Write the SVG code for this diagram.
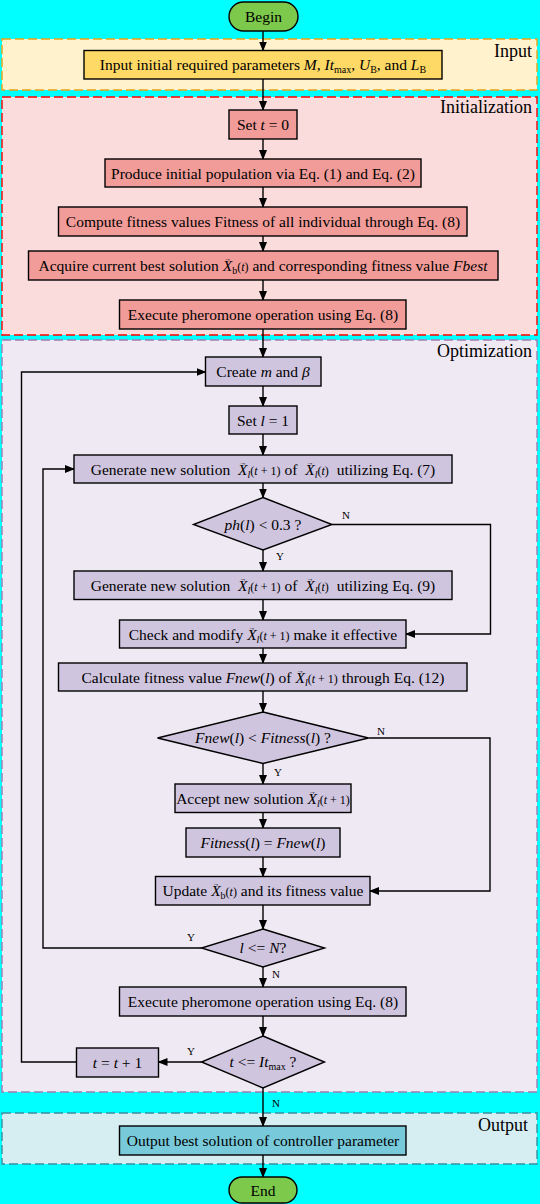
<svg xmlns="http://www.w3.org/2000/svg" width="540" height="1204" viewBox="0 0 540 1204">
<style>
text{font-family:"Liberation Serif","Times New Roman",serif;font-size:15.5px;fill:#000;text-anchor:middle}
.i{font-style:italic}
.sm{font-size:12px}
.sub{font-size:10px}
.va{font-size:7px;font-style:normal}
.lab{font-size:18px;text-anchor:end}
.yn{font-size:11px;text-anchor:start}
.reg{stroke-width:1.4;stroke-dasharray:9 4}
.b{stroke:#000;stroke-width:1.4}
.inp{fill:#FFD966}
.ini{fill:#F19C99}
.opt{fill:#D0C5DF}
.out{fill:#78C9D9}
.term{fill:#7DC94B;stroke:#000;stroke-width:1.4}
.c{fill:none;stroke:#000;stroke-width:1.4;marker-end:url(#ah)}
</style>
<defs>
<marker id="ah" markerWidth="10" markerHeight="8" refX="9" refY="4" orient="auto" markerUnits="userSpaceOnUse">
<path d="M0,0 L10,4 L0,8 Z" fill="#000"/>
</marker>
</defs>
<rect x="0" y="0" width="540" height="1204" fill="#00FFFF"/>
<g id="regions">
<rect class="reg" x="2" y="39" width="535" height="51" fill="#FFF2CC" stroke="#E8A317"/>
<text class="lab" x="532" y="57">Input</text>
<rect class="reg" x="2" y="97" width="535" height="238" fill="#F9DCDB" stroke="#FF0000"/>
<text class="lab" x="532" y="113">Initialization</text>
<rect class="reg" x="2" y="340" width="535" height="752" fill="#EFE9F3" stroke="#A07CB0"/>
<text class="lab" x="532" y="357">Optimization</text>
<rect class="reg" x="2" y="1113" width="535" height="51" fill="#D6EEF2" stroke="#3A8FA0"/>
<text class="lab" x="528" y="1131">Output</text>
</g>
<g id="connectors">
<path class="c" d="M263,31 V50.5"/>
<path class="c" d="M263,79 V110"/>
<path class="c" d="M263,139 V159"/>
<path class="c" d="M263,187 V207"/>
<path class="c" d="M263,236 V251"/>
<path class="c" d="M263,280 V300"/>
<path class="c" d="M263,329 V357"/>
<path class="c" d="M263,386 V406"/>
<path class="c" d="M263,434 V455"/>
<path class="c" d="M263,483 V497.5"/>
<path class="c" d="M263,550 V571"/>
<path class="c" d="M332,524.5 H490.5 V634 H406"/>
<path class="c" d="M263,599.5 V620"/>
<path class="c" d="M263,648 V663"/>
<path class="c" d="M263,691 V712"/>
<path class="c" d="M263,763.5 V784"/>
<path class="c" d="M368.5,738 H490 V891 H370"/>
<path class="c" d="M263,812.5 V828"/>
<path class="c" d="M263,857 V876.5"/>
<path class="c" d="M263,905 V929"/>
<path class="c" d="M201.5,948 H43 V469 H74"/>
<path class="c" d="M263,967 V987"/>
<path class="c" d="M263,1016 V1036"/>
<path class="c" d="M201.5,1062 H158.5"/>
<path class="c" d="M76.5,1062 H21.5 V372 H205.5"/>
<path class="c" d="M263,1088 V1126"/>
<path class="c" d="M263,1155 V1177"/>
<text class="yn" x="276" y="560">Y</text>
<text class="yn" x="342" y="519">N</text>
<text class="yn" x="274" y="776">Y</text>
<text class="yn" x="377" y="735">N</text>
<text class="yn" x="187" y="941">Y</text>
<text class="yn" x="272" y="978">N</text>
<text class="yn" x="187" y="1055">Y</text>
<text class="yn" x="272" y="1107">N</text>
</g>
<g id="begin">
<rect class="term" x="229" y="2" width="69" height="29" rx="14.5"/>
<text x="263.5" y="22">Begin</text>
</g>
<g id="input">
<rect class="b inp" x="84" y="50.5" width="358" height="28.5"/>
<text x="263" y="70">Input initial required parameters <tspan class="i">M</tspan>, <tspan class="i">It</tspan><tspan class="sub" dy="3">max</tspan><tspan dy="-3">, </tspan><tspan class="i">U</tspan><tspan class="sub" dy="3">B</tspan><tspan dy="-3">, and </tspan><tspan class="i">L</tspan><tspan class="sub" dy="3">B</tspan></text>
</g>
<g id="set-t">
<rect class="b ini" x="229" y="110" width="68" height="29"/>
<text x="263" y="130">Set <tspan class="i">t</tspan> = 0</text>
</g>
<g id="produce">
<rect class="b ini" x="105" y="159" width="316" height="28"/>
<text x="263" y="178.5">Produce initial population via Eq. (1) and Eq. (2)</text>
</g>
<g id="compute">
<rect class="b ini" x="58.5" y="207" width="408.5" height="29"/>
<text x="263" y="227">Compute fitness values Fitness of all individual through Eq. (8)</text>
</g>
<g id="acquire">
<rect class="b ini" x="28.5" y="251" width="469.5" height="29"/>
<text x="263" y="271">Acquire current best solution <tspan class="i">X</tspan><tspan class="va" dx="-8" dy="-10">→</tspan><tspan class="sub" dx="1" dy="13">b</tspan><tspan class="sm" dy="-3">(<tspan class="i">t</tspan>)</tspan> and corresponding fitness value <tspan class="i">Fbest</tspan></text>
</g>
<g id="execute1">
<rect class="b ini" x="119.5" y="300" width="286.5" height="29"/>
<text x="263" y="320">Execute pheromone operation using Eq. (8)</text>
</g>
<g id="create">
<rect class="b opt" x="205.5" y="357" width="115.5" height="29"/>
<text x="263" y="377">Create <tspan class="i">m</tspan> and <tspan class="i">β</tspan></text>
</g>
<g id="set-l">
<rect class="b opt" x="229" y="406" width="68" height="28"/>
<text x="263" y="425.5">Set <tspan class="i">l</tspan> = 1</text>
</g>
<g id="generate7">
<rect class="b opt" x="74" y="455" width="378" height="28"/>
<text x="263" y="474.5">Generate new solution <tspan class="i" dx="4">X</tspan><tspan class="va" dx="-8" dy="-10">→</tspan><tspan class="sub i" dx="1" dy="13">l</tspan><tspan class="sm" dy="-3">(<tspan class="i">t</tspan> + 1)</tspan><tspan dx="4">of </tspan><tspan class="i" dx="4">X</tspan><tspan class="va" dx="-8" dy="-10">→</tspan><tspan class="sub i" dx="1" dy="13">l</tspan><tspan class="sm" dy="-3">(<tspan class="i">t</tspan>)</tspan><tspan dx="4"> utilizing Eq. (7)</tspan></text>
</g>
<g id="decision-ph">
<polygon class="b opt" points="263,497.5 332,524.5 263,550 193.5,524.5"/>
<text x="263" y="529.5"><tspan class="i">ph</tspan>(<tspan class="i">l</tspan>) &lt; 0.3 ?</text>
</g>
<g id="generate9">
<rect class="b opt" x="74" y="571" width="378" height="28.5"/>
<text x="263" y="590.5">Generate new solution <tspan class="i" dx="4">X</tspan><tspan class="va" dx="-8" dy="-10">→</tspan><tspan class="sub i" dx="1" dy="13">l</tspan><tspan class="sm" dy="-3">(<tspan class="i">t</tspan> + 1)</tspan><tspan dx="4">of </tspan><tspan class="i" dx="4">X</tspan><tspan class="va" dx="-8" dy="-10">→</tspan><tspan class="sub i" dx="1" dy="13">l</tspan><tspan class="sm" dy="-3">(<tspan class="i">t</tspan>)</tspan><tspan dx="4"> utilizing Eq. (9)</tspan></text>
</g>
<g id="check">
<rect class="b opt" x="119.5" y="620" width="286.5" height="28"/>
<text x="263" y="639.5">Check and modify <tspan class="i">X</tspan><tspan class="va" dx="-8" dy="-10">→</tspan><tspan class="sub i" dx="1" dy="13">l</tspan><tspan class="sm" dy="-3">(<tspan class="i">t</tspan> + 1)</tspan> make it effective</text>
</g>
<g id="calculate">
<rect class="b opt" x="58.5" y="663" width="408.5" height="28"/>
<text x="263" y="682.5">Calculate fitness value <tspan class="i">Fnew</tspan>(<tspan class="i">l</tspan>) of <tspan class="i">X</tspan><tspan class="va" dx="-8" dy="-10">→</tspan><tspan class="sub i" dx="1" dy="13">l</tspan><tspan class="sm" dy="-3">(<tspan class="i">t</tspan> + 1)</tspan> through Eq. (12)</text>
</g>
<g id="decision-fnew">
<polygon class="b opt" points="263,712 368.5,738 263,763.5 157.5,738"/>
<text x="263" y="743"><tspan class="i">Fnew</tspan>(<tspan class="i">l</tspan>) &lt; <tspan class="i">Fitness</tspan>(<tspan class="i">l</tspan>) ?</text>
</g>
<g id="accept">
<rect class="b opt" x="175" y="784" width="176" height="28.5"/>
<text x="263" y="803.5">Accept new solution <tspan class="i">X</tspan><tspan class="va" dx="-8" dy="-10">→</tspan><tspan class="sub i" dx="1" dy="13">l</tspan><tspan class="sm" dy="-3">(<tspan class="i">t</tspan> + 1)</tspan></text>
</g>
<g id="fitness-update">
<rect class="b opt" x="186" y="828" width="154" height="29"/>
<text x="263" y="848"><tspan class="i">Fitness</tspan>(<tspan class="i">l</tspan>) = <tspan class="i">Fnew</tspan>(<tspan class="i">l</tspan>)</text>
</g>
<g id="update-best">
<rect class="b opt" x="155.5" y="876.5" width="214.5" height="28.5"/>
<text x="263" y="896">Update <tspan class="i">X</tspan><tspan class="va" dx="-8" dy="-10">→</tspan><tspan class="sub" dx="1" dy="13">b</tspan><tspan class="sm" dy="-3">(<tspan class="i">t</tspan>)</tspan> and its fitness value</text>
</g>
<g id="decision-l">
<polygon class="b opt" points="263,929 324.5,948 263,967 201.5,948"/>
<text x="263" y="953"><tspan class="i">l</tspan> &lt;= <tspan class="i">N</tspan>?</text>
</g>
<g id="execute2">
<rect class="b opt" x="119.5" y="987" width="286.5" height="29"/>
<text x="263" y="1007">Execute pheromone operation using Eq. (8)</text>
</g>
<g id="decision-t">
<polygon class="b opt" points="263,1036 324.5,1062 263,1088 201.5,1062"/>
<text x="263" y="1067"><tspan class="i">t</tspan> &lt;= <tspan class="i">It</tspan><tspan class="sub" dy="3">max</tspan><tspan dy="-3"> ?</tspan></text>
</g>
<g id="increment-t">
<rect class="b opt" x="76.5" y="1048" width="82" height="29"/>
<text x="117.5" y="1068"><tspan class="i">t</tspan> = <tspan class="i">t</tspan> + 1</text>
</g>
<g id="output">
<rect class="b out" x="119.5" y="1126" width="286.5" height="29"/>
<text x="263" y="1146">Output best solution of controller parameter</text>
</g>
<g id="end">
<rect class="term" x="229" y="1177" width="68" height="26" rx="13"/>
<text x="263" y="1195.5">End</text>
</g>
</svg>
